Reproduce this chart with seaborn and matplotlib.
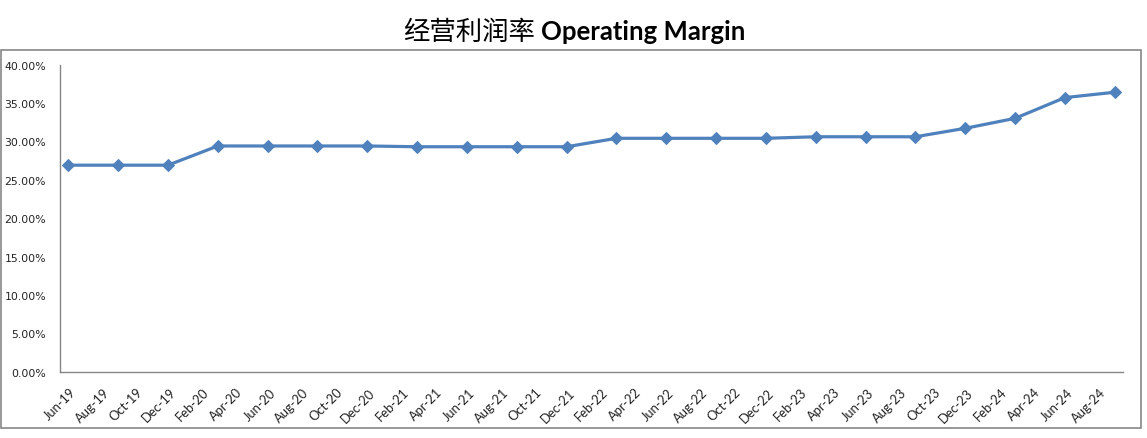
import pandas as pd
import matplotlib.pyplot as plt
import matplotlib.ticker as mticker
from matplotlib.patches import Rectangle
from matplotlib.transforms import ScaledTranslation
import seaborn as sns


# quarterly operating margin (%)
quarters = [
    "2019-06", "2019-09", "2019-12",
    "2020-03", "2020-06", "2020-09", "2020-12",
    "2021-03", "2021-06", "2021-09", "2021-12",
    "2022-03", "2022-06", "2022-09", "2022-12",
    "2023-03", "2023-06", "2023-09", "2023-12",
    "2024-03", "2024-06", "2024-09",
]
margin_pct = [
    26.9, 26.9, 26.9,
    29.4, 29.4, 29.4, 29.4,
    29.3, 29.3, 29.3, 29.3,
    30.4, 30.4, 30.4, 30.4,
    30.6, 30.6, 30.6, 31.7,
    33.0, 35.7, 36.4,
]
axis_start = "2019-06"
axis_end = "2024-09"
y_ticks = [0, 5, 10, 15, 20, 25, 30, 35, 40]

title_cn = "经营利润率"
title_en = "Operating Margin"

LINE_COLOR = "#4F81BD"
AXIS_COLOR = "#868686"

sns.set_style("white")
plt.rcParams["font.family"] = ["DejaVu Sans", "Noto Sans CJK SC"]


def month_slot(dates, start):
    # excel style date axis: one slot per month, point in the middle of it
    return (dates.dt.year - start.year) * 12 + (dates.dt.month - start.month) + 0.5


start = pd.Timestamp(axis_start)
end = pd.Timestamp(axis_end)

df = pd.DataFrame({
    "quarter": pd.to_datetime(quarters),
    "margin": margin_pct,
})
df["slot"] = month_slot(df["quarter"], start)

n_slots = (end.year - start.year) * 12 + (end.month - start.month) + 1
tick_dates = pd.date_range(start, end, freq="2MS")
tick_pos = [(d.year - start.year) * 12 + (d.month - start.month) for d in tick_dates]
tick_labels = [d.strftime("%b-%y") for d in tick_dates]

fig = plt.figure(figsize=(11.47, 4.39), dpi=100)
ax = fig.add_axes([60 / 1147, 1 - 372.7 / 439, (1123 - 60) / 1147, (372.7 - 65.6) / 439])

sns.lineplot(
    data=df,
    x="slot",
    y="margin",
    ax=ax,
    color=LINE_COLOR,
    linewidth=2.3,
    marker="D",
    markersize=6.5,
    markeredgecolor=LINE_COLOR,
)

ax.set_xlim(0, n_slots)
ax.set_ylim(0, 40)
ax.set_yticks(y_ticks)
ax.yaxis.set_major_formatter(mticker.PercentFormatter(decimals=2))
ax.set_xticks(tick_pos + [n_slots])
ax.set_xticklabels(tick_labels + [""])
ax.set_xlabel("")
ax.set_ylabel("")

for side in ["top", "right"]:
    ax.spines[side].set_visible(False)
for side in ["left", "bottom"]:
    ax.spines[side].set_color(AXIS_COLOR)
    ax.spines[side].set_linewidth(1)

ax.tick_params(axis="both", direction="out", length=4, width=1, color=AXIS_COLOR)
ax.tick_params(axis="y", pad=6, labelsize=7.8, labelcolor="#222222")
ax.tick_params(axis="x", pad=6, labelsize=9.3, labelcolor="#222222")

shift = ScaledTranslation(10 / 100, 0, fig.dpi_scale_trans)
for label in ax.get_xticklabels():
    label.set_rotation(45)
    label.set_ha("right")
    label.set_va("top")
    label.set_rotation_mode("anchor")
    label.set_fontfamily("Lato")
    label.set_transform(label.get_transform() + shift)

# outer chart border, like the excel chart area
fig.add_artist(Rectangle(
    (1 / 1147, 1 - 429 / 439), 1140 / 1147, 378 / 439,
    transform=fig.transFigure, fill=False, edgecolor=AXIS_COLOR, linewidth=1.2,
))

fig.text(535 / 1147, 1 - 32 / 439, title_cn, ha="right", va="center",
         fontsize=19, family="Noto Sans CJK SC", color="black")
fig.text(541 / 1147, 1 - 32 / 439, title_en, ha="left", va="center",
         fontsize=18.5, family="Lato", fontweight="bold", color="black")

fig.savefig("out.png", dpi=100)
plt.close(fig)
